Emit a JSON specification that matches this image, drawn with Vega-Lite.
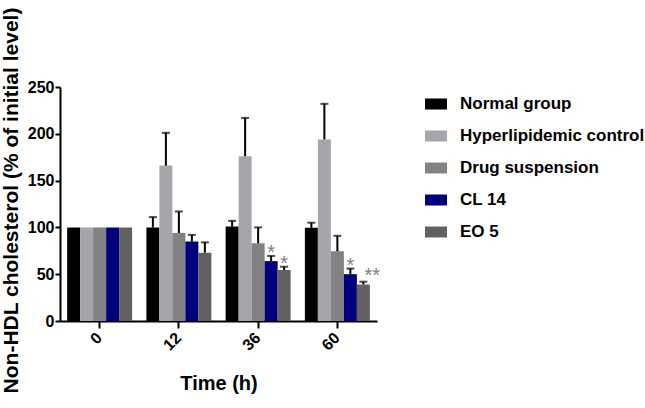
{
  "$schema": "https://vega.github.io/schema/vega-lite/v6.json",
  "width": 317,
  "height": 234,
  "autosize": "none",
  "padding": {"left": 60, "top": 87, "right": 268, "bottom": 87},
  "background": "white",
  "config": {
    "view": {"stroke": null},
    "font": "Liberation Sans"
  },
  "data": {
    "values": [
      {"time": "0", "group": "Normal group", "value": 100, "err": 100, "star": ""},
      {"time": "0", "group": "Hyperlipidemic control", "value": 100, "err": 100, "star": ""},
      {"time": "0", "group": "Drug suspension", "value": 100, "err": 100, "star": ""},
      {"time": "0", "group": "CL 14", "value": 100, "err": 100, "star": ""},
      {"time": "0", "group": "EO 5", "value": 100, "err": 100, "star": ""},
      {"time": "12", "group": "Normal group", "value": 100, "err": 111, "star": ""},
      {"time": "12", "group": "Hyperlipidemic control", "value": 166, "err": 201, "star": ""},
      {"time": "12", "group": "Drug suspension", "value": 94, "err": 117, "star": ""},
      {"time": "12", "group": "CL 14", "value": 85, "err": 92, "star": ""},
      {"time": "12", "group": "EO 5", "value": 73, "err": 84, "star": ""},
      {"time": "36", "group": "Normal group", "value": 101, "err": 107, "star": ""},
      {"time": "36", "group": "Hyperlipidemic control", "value": 176, "err": 217, "star": ""},
      {"time": "36", "group": "Drug suspension", "value": 83, "err": 100, "star": ""},
      {"time": "36", "group": "CL 14", "value": 64, "err": 69.5, "star": "*"},
      {"time": "36", "group": "EO 5", "value": 54.5, "err": 58, "star": "*"},
      {"time": "60", "group": "Normal group", "value": 99.5, "err": 105, "star": ""},
      {"time": "60", "group": "Hyperlipidemic control", "value": 194, "err": 232, "star": ""},
      {"time": "60", "group": "Drug suspension", "value": 74.5, "err": 91, "star": ""},
      {"time": "60", "group": "CL 14", "value": 50, "err": 56, "star": "*"},
      {"time": "60", "group": "EO 5", "value": 39, "err": 42, "star": "**"}
    ]
  },
  "encoding": {
    "x": {
      "field": "time",
      "type": "nominal",
      "sort": ["0", "12", "36", "60"],
      "scale": {"paddingInner": 0.18, "paddingOuter": 0.09},
      "axis": {
        "title": "Time (h)",
        "titleFontSize": 20,
        "titleFontWeight": "bold",
        "titleColor": "black",
        "titlePadding": 20,
        "labelAngle": -45,
        "labelAlign": "right",
        "labelBaseline": "middle",
        "labelPadding": 7,
        "labelFontSize": 16,
        "labelFontWeight": "bold",
        "labelColor": "black",
        "domainColor": "black",
        "domainWidth": 2,
        "tickColor": "black",
        "tickWidth": 2,
        "tickSize": 7
      }
    },
    "xOffset": {
      "field": "group",
      "type": "nominal",
      "sort": ["Normal group", "Hyperlipidemic control", "Drug suspension", "CL 14", "EO 5"]
    }
  },
  "layer": [
    {
      "mark": {"type": "bar"},
      "encoding": {
        "y": {
          "field": "value",
          "type": "quantitative",
          "scale": {"domain": [0, 250], "nice": false},
          "axis": {
            "title": "Non-HDL cholesterol (% of initial level)",
            "titleFontSize": 21,
            "titleFontWeight": "bold",
            "titleColor": "black",
            "titlePadding": 6,
            "titleY": 113,
            "values": [0, 50, 100, 150, 200, 250],
            "grid": false,
            "labelFontSize": 16,
            "labelFontWeight": "bold",
            "labelColor": "black",
            "labelPadding": 1,
            "domainColor": "black",
            "domainWidth": 2,
            "tickColor": "black",
            "tickWidth": 2,
            "tickSize": 5
          }
        },
        "color": {
          "field": "group",
          "type": "nominal",
          "sort": ["Normal group", "Hyperlipidemic control", "Drug suspension", "CL 14", "EO 5"],
          "scale": {
            "domain": ["Normal group", "Hyperlipidemic control", "Drug suspension", "CL 14", "EO 5"],
            "range": ["#000000", "#a6a6aa", "#828282", "#00007d", "#616161"]
          },
          "legend": {
            "title": null,
            "orient": "none",
            "legendX": 365,
            "legendY": 6,
            "symbolType": "M-1,-0.5H1V0.5H-1Z",
            "symbolSize": 484,
            "symbolStrokeWidth": 0,
            "symbolOpacity": 1,
            "labelFontSize": 17,
            "labelFontWeight": "bold",
            "labelColor": "black",
            "labelOffset": 13,
            "labelLimit": 300,
            "rowPadding": 13
          }
        }
      }
    },
    {
      "transform": [{"filter": "datum.err > datum.value"}],
      "mark": {"type": "rule", "color": "black", "strokeWidth": 2},
      "encoding": {
        "y": {"field": "value", "type": "quantitative"},
        "y2": {"field": "err"}
      }
    },
    {
      "transform": [{"filter": "datum.err > datum.value"}],
      "mark": {"type": "tick", "color": "black", "thickness": 2, "size": 8},
      "encoding": {
        "y": {"field": "err", "type": "quantitative"}
      }
    },
    {
      "transform": [{"filter": "datum.star == '*'"}],
      "mark": {"type": "text", "color": "#808080", "fontSize": 20, "baseline": "alphabetic", "dy": 3},
      "encoding": {
        "y": {"field": "err", "type": "quantitative"},
        "text": {"field": "star"}
      }
    },
    {
      "transform": [{"filter": "datum.star == '**'"}],
      "mark": {"type": "text", "color": "#808080", "fontSize": 20, "baseline": "alphabetic", "dy": 0, "dx": 9},
      "encoding": {
        "y": {"field": "err", "type": "quantitative"},
        "text": {"field": "star"}
      }
    }
  ]
}
